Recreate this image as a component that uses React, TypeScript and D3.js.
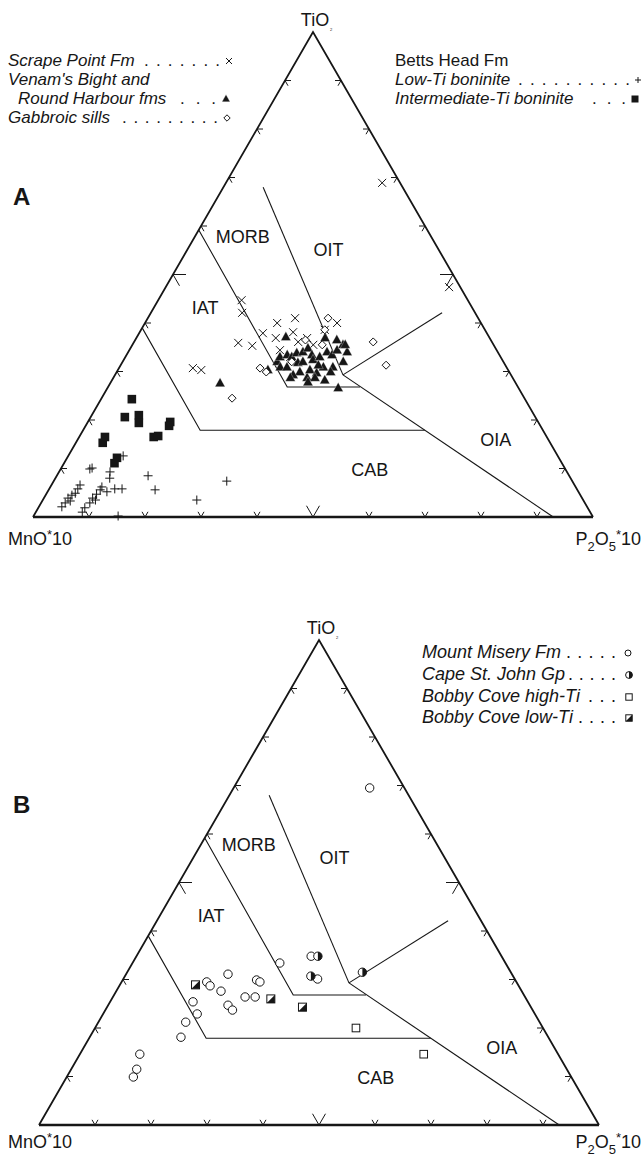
import React from "react";
import * as d3 from "d3";

// Composition of a sample: [TiO2, MnO*10, P2O5*10] in percent
type Comp = [number, number, number];

// ---- Panel A samples ----
const scrapePointFm: Comp[] = [
  [68.9, 3.2, 27.9], [47.4, 2.0, 50.6], [44.7, 40.4, 14.9], [42.1, 41.6, 16.3],
  [40.0, 36.4, 23.6], [41.0, 32.7, 26.3], [40.0, 25.7, 34.3], [37.9, 40.0, 22.1],
  [38.1, 34.5, 27.4], [36.9, 38.2, 24.9], [35.9, 45.4, 18.7], [35.3, 43.2, 21.5],
  [36.9, 32.6, 30.5], [36.1, 34.6, 29.3], [34.4, 38.7, 26.9], [35.5, 32.2, 32.3],
  [30.7, 56.1, 13.2], [30.3, 54.8, 14.9], [38.6, 28.6, 32.8], [33.0, 37.6, 29.4],
];

const venamRoundHarbour: Comp[] = [
  [27.6, 52.8, 19.6], [37.1, 36.3, 26.6], [30.3, 42.9, 26.8], [32.0, 40.4, 27.6],
  [33.0, 39.4, 27.6], [33.4, 37.9, 28.7], [33.0, 37.3, 29.7], [33.8, 36.0, 30.2],
  [34.0, 34.8, 31.2], [34.8, 33.5, 31.7], [33.4, 33.5, 33.1], [32.4, 33.8, 33.8],
  [33.0, 32.3, 34.7], [36.9, 29.4, 33.7], [34.0, 30.5, 35.5], [33.4, 29.9, 36.7],
  [34.4, 28.5, 37.1], [35.5, 26.9, 37.6], [34.0, 26.9, 39.1], [32.0, 28.6, 39.4],
  [30.9, 32.7, 36.4], [28.2, 33.8, 38.0], [28.7, 36.7, 34.6], [29.9, 37.4, 32.7],
  [29.3, 38.9, 31.8], [30.3, 35.4, 34.3], [29.7, 34.5, 35.8], [30.9, 40.4, 28.7],
  [30.9, 39.2, 29.9], [26.6, 32.2, 41.2], [31.8, 36.8, 31.4], [31.3, 33.4, 35.3],
  [30.9, 31.0, 38.1], [32.0, 35.8, 32.2], [36.5, 27.5, 36.0], [35.5, 26.5, 38.0],
  [28.7, 35.3, 36.0], [29.9, 31.9, 38.2], [28.7, 39.7, 31.6], [27.8, 37.0, 35.2],
];

const gabbroicSills: Comp[] = [
  [24.5, 52.2, 23.3], [30.7, 44.1, 25.2], [29.9, 43.4, 26.7], [41.0, 26.8, 32.2],
  [38.6, 28.6, 32.8], [35.5, 30.6, 33.9], [36.1, 21.2, 42.7], [31.3, 21.3, 47.4],
  [36.5, 33.1, 30.4], [32.0, 37.8, 30.2],
];

const lowTiBoninite: Comp[] = [
  [9.9, 84.9, 5.2], [10.1, 84.4, 5.5], [9.3, 81.6, 9.1], [8.0, 82.3, 9.7],
  [12.6, 77.6, 9.8], [8.5, 75.2, 16.3], [7.4, 61.7, 30.9], [5.6, 75.4, 19.0],
  [3.5, 69.0, 27.5], [0.2, 84.7, 15.1], [1.0, 90.7, 8.3], [2.1, 93.8, 4.1],
  [2.9, 92.8, 4.3], [3.9, 91.8, 4.3], [4.5, 90.8, 4.7], [4.9, 90.0, 5.1],
  [5.8, 89.1, 5.1], [6.6, 88.3, 5.1], [1.9, 89.8, 8.3], [2.9, 88.4, 8.7],
  [3.9, 87.4, 8.7], [4.7, 86.3, 9.0], [5.6, 85.2, 9.2], [6.2, 84.6, 9.2],
  [5.2, 84.2, 10.6], [5.8, 82.5, 11.7], [5.8, 81.2, 13.0], [3.3, 91.7, 5.0],
  [3.5, 87.1, 9.4],
];

const intermediateTiBoninite: Comp[] = [
  [24.3, 70.2, 5.5], [20.6, 73.3, 6.1], [21.0, 70.6, 8.4], [19.4, 71.4, 9.2],
  [19.6, 65.7, 14.7], [18.8, 66.3, 14.9], [16.5, 70.2, 13.3], [16.7, 69.3, 14.0],
  [16.5, 78.9, 4.6], [15.3, 79.9, 4.8], [12.2, 78.9, 8.9], [11.1, 79.9, 9.0],
];

// ---- Panel B samples ----
const mountMiseryFm: Comp[] = [
  [69.5, 6.2, 24.3], [33.4, 40.3, 26.3], [34.8, 34.0, 31.2], [30.1, 35.2, 34.7],
  [31.1, 50.7, 18.2], [29.5, 55.3, 15.2], [28.7, 55.1, 16.2], [27.6, 53.7, 18.7],
  [29.9, 46.2, 23.9], [29.5, 45.8, 24.7], [26.4, 50.0, 23.6], [26.4, 48.2, 25.4],
  [25.4, 59.8, 14.8], [22.9, 60.3, 16.8], [24.7, 53.9, 21.4], [23.7, 53.6, 22.7],
  [21.2, 63.2, 15.6], [18.1, 65.6, 16.3], [14.6, 74.7, 10.7], [11.5, 76.8, 11.7],
  [9.9, 78.2, 11.9],
];

const capeStJohnGp: Comp[] = [
  [34.8, 32.8, 32.4], [30.7, 36.1, 33.2], [31.5, 26.5, 42.0],
];

const bobbyCoveHighTi: Comp[] = [
  [20.0, 33.4, 46.6], [14.6, 24.0, 61.4],
];

const bobbyCoveLowTi: Comp[] = [
  [28.9, 57.6, 13.5], [26.0, 45.6, 28.4], [24.3, 40.8, 34.9],
];

// ---- Discriminant field boundaries (Mullen-type MnO–TiO2–P2O5 diagram) ----
const fieldBoundaries: Comp[][] = [
  [[59.2, 40.8, 0], [26.8, 41.2, 32.0], [26.8, 28.2, 45.0]],
  [[68.0, 24.9, 7.1], [29.3, 30.0, 40.7]],
  [[29.3, 30.0, 40.7], [42.1, 5.9, 52.0]],
  [[29.3, 30.0, 40.7], [0, 7.1, 92.9]],
  [[39.0, 61.0, 0], [17.9, 61.2, 20.9], [17.9, 21.1, 61.0]],
];

const fieldNames = ["MORB", "OIT", "IAT", "OIA", "CAB"];
const fieldLabelAt: Comp[] = [
  [57.9, 33.6, 8.5], [55.1, 19.7, 25.2], [43.3, 47.6, 9.1], [15.9, 9.4, 74.7], [9.7, 35.0, 55.3],
];

const tickFractions = [10, 20, 30, 40, 50, 60, 70, 80, 90];

const FONT = "'Liberation Sans', Arial, Helvetica, sans-serif";
const INK = "#161616";

type Kind =
  | "cross" | "plus" | "triangle" | "diamond" | "square"
  | "circle" | "halfCircle" | "openSquare" | "halfSquare";

function Marker({ kind, x, y, s }: { kind: Kind; x: number; y: number; s: number }) {
  switch (kind) {
    case "cross":
      return (
        <path d={`M${x - s},${y - s}L${x + s},${y + s}M${x - s},${y + s}L${x + s},${y - s}`}
          stroke={INK} strokeWidth={1} fill="none" />
      );
    case "plus":
      return (
        <path d={`M${x - s},${y}L${x + s},${y}M${x},${y - s}L${x},${y + s}`}
          stroke={INK} strokeWidth={1} fill="none" />
      );
    case "triangle":
      return (
        <path d={`M${x},${y - s * 1.1}L${x + s},${y + s * 0.7}L${x - s},${y + s * 0.7}Z`}
          fill={INK} stroke="#fff" strokeWidth={0.3} />
      );
    case "diamond":
      return (
        <path d={`M${x},${y - s}L${x + s},${y}L${x},${y + s}L${x - s},${y}Z`}
          fill="#fff" stroke={INK} strokeWidth={1} />
      );
    case "square":
      return <rect x={x - s} y={y - s} width={2 * s} height={2 * s} fill={INK} />;
    case "circle":
      return <circle cx={x} cy={y} r={s} fill="#fff" stroke={INK} strokeWidth={1} />;
    case "halfCircle":
      return (
        <g>
          <circle cx={x} cy={y} r={s} fill="#fff" stroke={INK} strokeWidth={1} />
          <path d={`M${x},${y - s}A${s},${s} 0 0 1 ${x},${y + s}Z`} fill={INK} />
        </g>
      );
    case "openSquare":
      return <rect x={x - s} y={y - s} width={2 * s} height={2 * s} fill="#fff" stroke={INK} strokeWidth={1} />;
    case "halfSquare":
      return (
        <g>
          <rect x={x - s} y={y - s} width={2 * s} height={2 * s} fill="#fff" stroke={INK} strokeWidth={1} />
          <path d={`M${x + s},${y - s}L${x + s},${y + s}L${x - s},${y + s}Z`} fill={INK} />
        </g>
      );
  }
  return null;
}

type Series = { data: Comp[]; kind: Kind; size: number };

type LegendRow = {
  text: string;
  x: number;
  y: number;
  italic: boolean;
  dots?: { from: number; to: number; n: number };
  marker?: { kind: Kind; x: number; size: number };
};

function Ternary({
  origin, side, letter, letterY, series, labelGap,
}: {
  origin: { x: number; y: number };
  side: number;
  letter: string;
  letterY: number;
  series: Series[];
  labelGap: number;
}) {
  const h = (side * Math.sqrt(3)) / 2;
  const xs = d3.scaleLinear().domain([0, 100]).range([origin.x, origin.x + side]);
  const ys = d3.scaleLinear().domain([0, 100]).range([origin.y, origin.y - h]);
  const proj = ([t, m, p]: Comp): [number, number] => {
    const s = t + m + p;
    const tt = (t / s) * 100;
    const pp = (p / s) * 100;
    return [xs(pp + tt / 2), ys(tt)];
  };
  const line = d3.line<[number, number]>();

  const left = proj([0, 100, 0]);
  const right = proj([0, 0, 100]);
  const apex = proj([100, 0, 0]);

  const c30 = 0.5, s60 = Math.sqrt(3) / 2;
  const ticks: string[] = [];
  tickFractions.forEach((f) => {
    const L = f === 50 ? 13 : 6;
    const chev = (pt: [number, number], a: [number, number], b: [number, number]) =>
      line([
        [pt[0] + a[0] * L, pt[1] + a[1] * L],
        pt,
        [pt[0] + b[0] * L, pt[1] + b[1] * L],
      ]) as string;
    ticks.push(chev(proj([0, 100 - f, f]), [-c30, -s60], [c30, -s60]));
    ticks.push(chev(proj([f, 100 - f, 0]), [1, 0], [c30, s60]));
    ticks.push(chev(proj([f, 0, 100 - f]), [-1, 0], [-c30, s60]));
  });

  return (
    <g>
      {/* outer triangle */}
      <path d={line([left, apex, right]) as string} fill="none" stroke={INK} strokeWidth={1.8} strokeLinejoin="miter" />
      <path d={line([left, right]) as string} fill="none" stroke={INK} strokeWidth={2.4} />
      {ticks.map((d, i) => (
        <path key={i} d={d} fill="none" stroke={INK} strokeWidth={1} />
      ))}
      {/* field boundaries */}
      {fieldBoundaries.map((b, i) => (
        <path key={i} d={line(b.map(proj)) as string} fill="none" stroke={INK} strokeWidth={1.1} />
      ))}
      {fieldNames.map((n, i) => {
        const [x, y] = proj(fieldLabelAt[i]);
        return (
          <text key={n} x={x} y={y + 6.5} textAnchor="middle" fontFamily={FONT} fontSize={18} fill={INK}>
            {n}
          </text>
        );
      })}
      {/* samples */}
      {series.map((s, si) =>
        s.data.map((c, i) => {
          const [x, y] = proj(c);
          return <Marker key={`${si}-${i}`} kind={s.kind} x={x} y={y} s={s.size} />;
        })
      )}
      {/* apex and corner labels */}
      <text x={apex[0] + 2} y={apex[1] - 6} textAnchor="middle" fontFamily={FONT} fontSize={18} fill={INK}>
        TiO
      </text>
      <text x={apex[0] + 17} y={apex[1] - 1} fontFamily={FONT} fontSize={4} fill={INK}>
        2
      </text>
      <text x={8} y={left[1] + labelGap} fontFamily={FONT} fontSize={18} fill={INK}>
        MnO
        <tspan dy={-6} fontSize={13}>*</tspan>
        <tspan dy={6}>10</tspan>
      </text>
      <text x={641} y={right[1] + labelGap} textAnchor="end" fontFamily={FONT} fontSize={18} fill={INK}>
        P
        <tspan dy={6} fontSize={13}>2</tspan>
        <tspan dy={-6}>O</tspan>
        <tspan dy={6} fontSize={13}>5</tspan>
        <tspan dy={-12} fontSize={13}>*</tspan>
        <tspan dy={6}>10</tspan>
      </text>
      <text x={13} y={letterY} fontFamily={FONT} fontSize={24} fontWeight="bold" fill={INK}>
        {letter}
      </text>
    </g>
  );
}

function Legend({ rows, size }: { rows: LegendRow[]; size: number }) {
  return (
    <g fontFamily={FONT} fontSize={size} fill={INK}>
      {rows.map((r, i) => (
        <g key={i}>
          <text x={r.x} y={r.y} fontStyle={r.italic ? "italic" : "normal"}>
            {r.text}
          </text>
          {r.dots && (
            <text
              x={r.dots.from}
              y={r.y}
              textLength={r.dots.to - r.dots.from}
              lengthAdjust="spacing"
            >
              {Array(r.dots.n).fill(".").join(" ")}
            </text>
          )}
          {r.marker && <Marker kind={r.marker.kind} x={r.marker.x} y={r.y - 5} s={r.marker.size} />}
        </g>
      ))}
    </g>
  );
}

const legendA: LegendRow[] = [
  { text: "Scrape Point Fm", x: 8, y: 66, italic: true, dots: { from: 144, to: 220, n: 7 }, marker: { kind: "cross", x: 229, size: 3 } },
  { text: "Venam's Bight and", x: 8, y: 85, italic: true },
  { text: "Round Harbour fms", x: 18, y: 104, italic: true, dots: { from: 180, to: 216, n: 3 }, marker: { kind: "triangle", x: 226, size: 4 } },
  { text: "Gabbroic sills", x: 8, y: 123, italic: true, dots: { from: 122, to: 218, n: 9 }, marker: { kind: "diamond", x: 227, size: 3.2 } },
  { text: "Betts Head Fm", x: 395, y: 66, italic: false },
  { text: "Low-Ti boninite", x: 395, y: 85, italic: true, dots: { from: 518, to: 630, n: 10 }, marker: { kind: "plus", x: 638, size: 3 } },
  { text: "Intermediate-Ti boninite", x: 395, y: 104, italic: true, dots: { from: 592, to: 626, n: 3 }, marker: { kind: "square", x: 635, size: 3.5 } },
];

const legendB: LegendRow[] = [
  { text: "Mount Misery Fm", x: 422, y: 658, italic: true, dots: { from: 566, to: 616, n: 5 }, marker: { kind: "circle", x: 628, size: 3 } },
  { text: "Cape St. John Gp", x: 422, y: 680, italic: true, dots: { from: 568, to: 616, n: 5 }, marker: { kind: "halfCircle", x: 629, size: 3.4 } },
  { text: "Bobby Cove high-Ti", x: 422, y: 702, italic: true, dots: { from: 588, to: 616, n: 3 }, marker: { kind: "openSquare", x: 629, size: 3.2 } },
  { text: "Bobby Cove low-Ti", x: 422, y: 723, italic: true, dots: { from: 578, to: 616, n: 4 }, marker: { kind: "halfSquare", x: 629, size: 3.2 } },
];

export default function App() {
  const seriesA: Series[] = [
    { data: scrapePointFm, kind: "cross", size: 4 },
    { data: lowTiBoninite, kind: "plus", size: 4.5 },
    { data: intermediateTiBoninite, kind: "square", size: 4.3 },
    { data: venamRoundHarbour, kind: "triangle", size: 5 },
    { data: gabbroicSills, kind: "diamond", size: 4 },
  ];
  const seriesB: Series[] = [
    { data: mountMiseryFm, kind: "circle", size: 4.2 },
    { data: capeStJohnGp, kind: "halfCircle", size: 4.2 },
    { data: bobbyCoveHighTi, kind: "openSquare", size: 3.8 },
    { data: bobbyCoveLowTi, kind: "halfSquare", size: 4 },
  ];
  return (
    <svg
      width={642}
      height={1159}
      viewBox="0 0 642 1159"
      style={{ position: "absolute", left: 0, top: 0, background: "#fff", display: "block" }}
    >
      <rect width={642} height={1159} fill="#fff" />
      <Legend rows={legendA} size={17} />
      <Ternary origin={{ x: 33, y: 517 }} side={560} letter="A" letterY={205} series={seriesA} labelGap={28} />
      <Legend rows={legendB} size={18} />
      <Ternary origin={{ x: 39, y: 1125 }} side={560} letter="B" letterY={813} series={seriesB} labelGap={23} />
    </svg>
  );
}
